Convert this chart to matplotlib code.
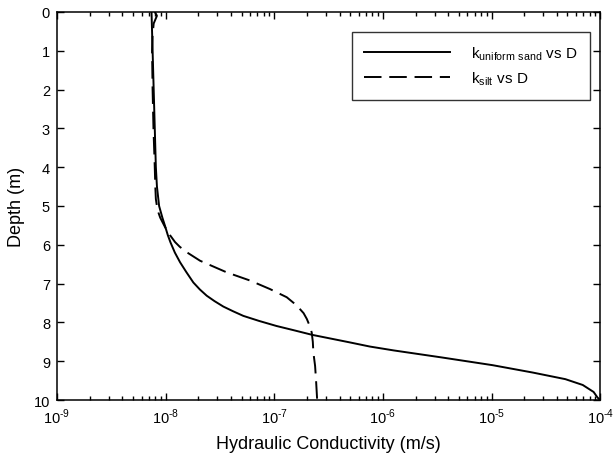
import numpy as np
import matplotlib
matplotlib.use("Agg")
import matplotlib.pyplot as plt
from matplotlib.ticker import FixedLocator, FixedFormatter, LogLocator, NullFormatter

plt.rcParams['font.family'] = ['Liberation Sans', 'DejaVu Sans']
plt.rcParams['mathtext.fontset'] = 'custom'
plt.rcParams['mathtext.rm'] = 'Liberation Sans'

# log10 of hydraulic conductivity (m/s), with depth (m)
sand_depth = [0.0, 1.0, 2.0, 3.0, 4.0, 4.5, 5.0, 5.3, 5.51, 5.75, 5.94, 6.2, 6.45, 6.7,
              6.97, 7.15, 7.31, 7.45, 7.59, 7.71, 7.83, 7.96, 8.09, 8.2, 8.32, 8.51,
              8.62, 8.72, 8.9, 9.1, 9.29, 9.46, 9.61, 9.79, 9.93, 10.0]
sand_logk = [-8.13, -8.12, -8.11, -8.10, -8.09, -8.08, -8.06, -8.03, -8.006, -7.98, -7.955,
             -7.915, -7.867, -7.81, -7.745, -7.685, -7.622, -7.55, -7.469, -7.38, -7.285,
             -7.14, -6.98, -6.82, -6.649, -6.31, -6.12, -5.90, -5.46, -4.99, -4.62,
             -4.32, -4.16, -4.06, -4.025, -4.0]

silt_depth = [0.0, 0.1, 0.3, 0.6, 1.0, 2.0, 3.0, 4.0, 4.5, 4.82, 5.1, 5.3, 5.54, 5.75,
              5.93, 6.05, 6.19, 6.41, 6.56, 6.71, 6.92, 7.14, 7.35, 7.5, 7.61, 7.76, 7.91,
              8.08, 8.26, 8.5, 8.77, 9.12, 9.5, 10.0]
silt_logk = [-8.10, -8.08, -8.11, -8.12, -8.125, -8.12, -8.112, -8.10, -8.095, -8.09,
             -8.075, -8.05, -8.006, -7.96, -7.913, -7.87, -7.806, -7.683, -7.56, -7.437,
             -7.223, -7.039, -6.885, -6.82, -6.778, -6.73, -6.70, -6.675, -6.655, -6.645,
             -6.64, -6.624, -6.615, -6.605]

x_ticks = [1e-9, 1e-8, 1e-7, 1e-6, 1e-5, 1e-4]
x_labels = ['10$^{\\mathregular{\u2010' + e + '}}$' for e in ['9', '8', '7', '6', '5', '4']]

fig = plt.figure(figsize=(6.13, 4.6), dpi=100)
ax = fig.add_axes([0.093, 0.128, 0.886, 0.844])

ax.plot(10 ** np.array(sand_logk), sand_depth, color='black', lw=1.4,
        label=r'k$_{\mathregular{uniform\ sand}}$ vs D')
ax.plot(10 ** np.array(silt_logk), silt_depth, color='black', lw=1.4,
        dashes=(9, 4), label=r'k$_{\mathregular{silt}}$ vs D')

ax.set_xscale('log')
ax.set_xlim(1e-9, 1e-4)
ax.set_ylim(10, 0)
ax.set_yticks(range(0, 11))
ax.xaxis.set_major_locator(FixedLocator(x_ticks))
ax.xaxis.set_major_formatter(FixedFormatter(x_labels))
ax.xaxis.set_minor_locator(LogLocator(base=10, subs=np.arange(2, 10), numticks=20))
ax.xaxis.set_minor_formatter(NullFormatter())

ax.tick_params(which='major', direction='in', length=5, width=1, top=True, right=True,
               labelsize=10.5, pad=5)
ax.tick_params(which='minor', direction='in', length=3, width=1, top=True, right=True)
for s in ax.spines.values():
    s.set_linewidth(1.1)

ax.set_xlabel('Hydraulic Conductivity (m/s)', fontsize=13, labelpad=6)
ax.set_ylabel('Depth (m)', fontsize=13, labelpad=6)

leg = ax.legend(loc='upper left', bbox_to_anchor=(0.543, 0.948), fontsize=11,
                handlelength=5.6, handletextpad=1.4, frameon=True, fancybox=False,
                borderpad=0.8, labelspacing=0.5, borderaxespad=0)
leg.get_frame().set_edgecolor('black')
leg.get_frame().set_linewidth(1.0)

fig.savefig('out.png', dpi=100)
